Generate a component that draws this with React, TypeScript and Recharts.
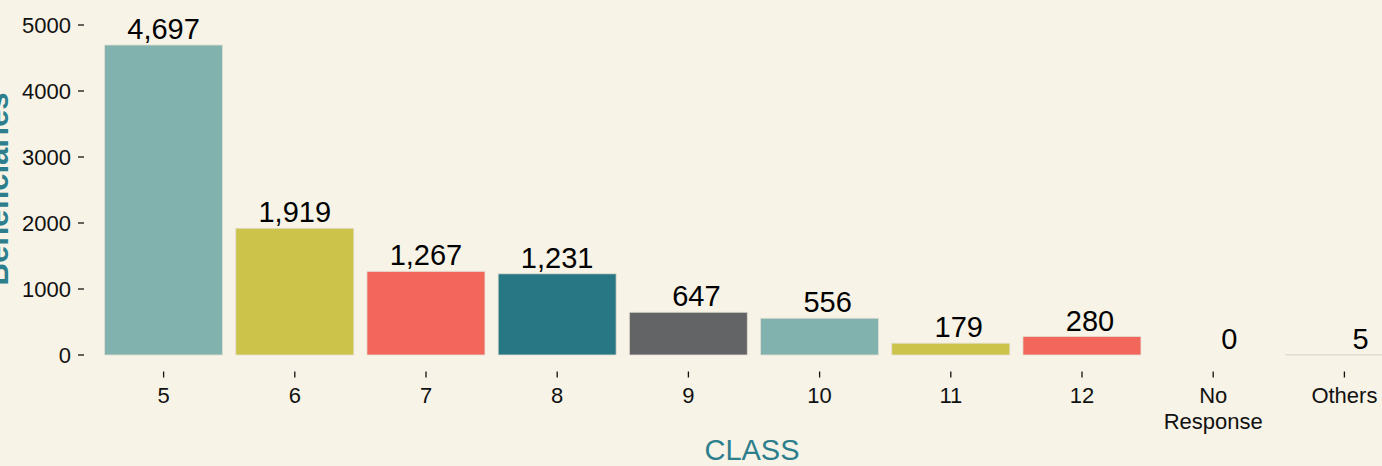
import { BarChart, Bar, Cell, XAxis, YAxis, LabelList } from "recharts";

const classes = ["5", "6", "7", "8", "9", "10", "11", "12", "No Response", "Others"];
const beneficiaries = [4697, 1919, 1267, 1231, 647, 556, 179, 280, 0, 5];
const yTicks = [0, 1000, 2000, 3000, 4000, 5000];

const PALETTE = ["#82B2AE", "#CCC34B", "#F2665C", "#287784", "#636466"];
const BG = "#F7F3E6";
const TITLE = "#2E7F8D";
const FONT = "'Liberation Sans', Arial, Helvetica, sans-serif";

const data = classes.map((name, i) => ({ name, value: beneficiaries[i] }));

// labels are padded to a common width like R's format(), so short ones sit right of centre
const padLabel = (v: number) => v.toLocaleString("en-US").padStart(5, "\u00A0");

const ValueLabel = (props: any) => {
  const { x, y, width, value } = props;
  return (
    <text
      x={Number(x) + Number(width) / 2}
      y={Number(y) - 6}
      textAnchor="middle"
      fontSize={29}
      fontFamily={FONT}
      fill="#000"
    >
      {padLabel(Number(value))}
    </text>
  );
};

const ClassTick = (props: any) => {
  const { x, y, payload } = props;
  const lines = String(payload.value).split(" ");
  return (
    <text x={x} y={y + 25.5} textAnchor="middle" fontSize={22} fontFamily={FONT} fill="#111">
      {lines.map((line, i) => (
        <tspan key={line} x={x} dy={i === 0 ? 0 : 26}>
          {line}
        </tspan>
      ))}
    </text>
  );
};

const App = () => {
  return (
    <div
      style={{
        position: "absolute",
        left: 0,
        top: 0,
        width: 1382,
        height: 466,
        overflow: "hidden",
        background: BG,
      }}
    >
      <BarChart
        width={1430}
        height={466}
        data={data}
        margin={{ top: 25, right: 6, bottom: 0, left: 0 }}
        barCategoryGap="5%"
      >
        <XAxis
          dataKey="name"
          height={94.5}
          padding={{ left: 14, right: 14 }}
          axisLine={false}
          tickSize={6}
          tickMargin={0}
          tickLine={{ stroke: "#111", strokeWidth: 1.3 }}
          tick={<ClassTick />}
          interval={0}
          label={{
            content: (p: any) => (
              <text
                x={p.viewBox.x + p.viewBox.width / 2 - 2}
                y={p.viewBox.y + 88.5}
                textAnchor="middle"
                fontSize={29}
                fontFamily={FONT}
                fill={TITLE}
              >
                CLASS
              </text>
            ),
          }}
        />
        <YAxis
          width={84}
          domain={[-250, 5000]}
          ticks={yTicks}
          allowDataOverflow
          axisLine={false}
          tickSize={6}
          tickMargin={7}
          tickLine={{ stroke: "#111", strokeWidth: 1.3 }}
          tick={{ fontSize: 22, fontFamily: FONT, fill: "#111" }}
          label={{
            content: () => (
              <text
                x={8}
                y={189}
                transform="rotate(-90 8 189)"
                textAnchor="middle"
                fontSize={31}
                fontWeight="bold"
                fontFamily={FONT}
                fill={TITLE}
              >
                Beneficiaries
              </text>
            ),
          }}
        />
        <Bar
          dataKey="value"
          isAnimationActive={false}
          stroke="#E4E0D3"
          strokeWidth={0.8}
          minPointSize={0.001}
        >
          {data.map((d, i) => (
            <Cell
              key={d.name}
              fill={PALETTE[i % PALETTE.length]}
              stroke={d.value === 0 ? "none" : "#E4E0D3"}
            />
          ))}
          <LabelList dataKey="value" content={<ValueLabel />} />
        </Bar>
      </BarChart>
    </div>
  );
};

export default App;
